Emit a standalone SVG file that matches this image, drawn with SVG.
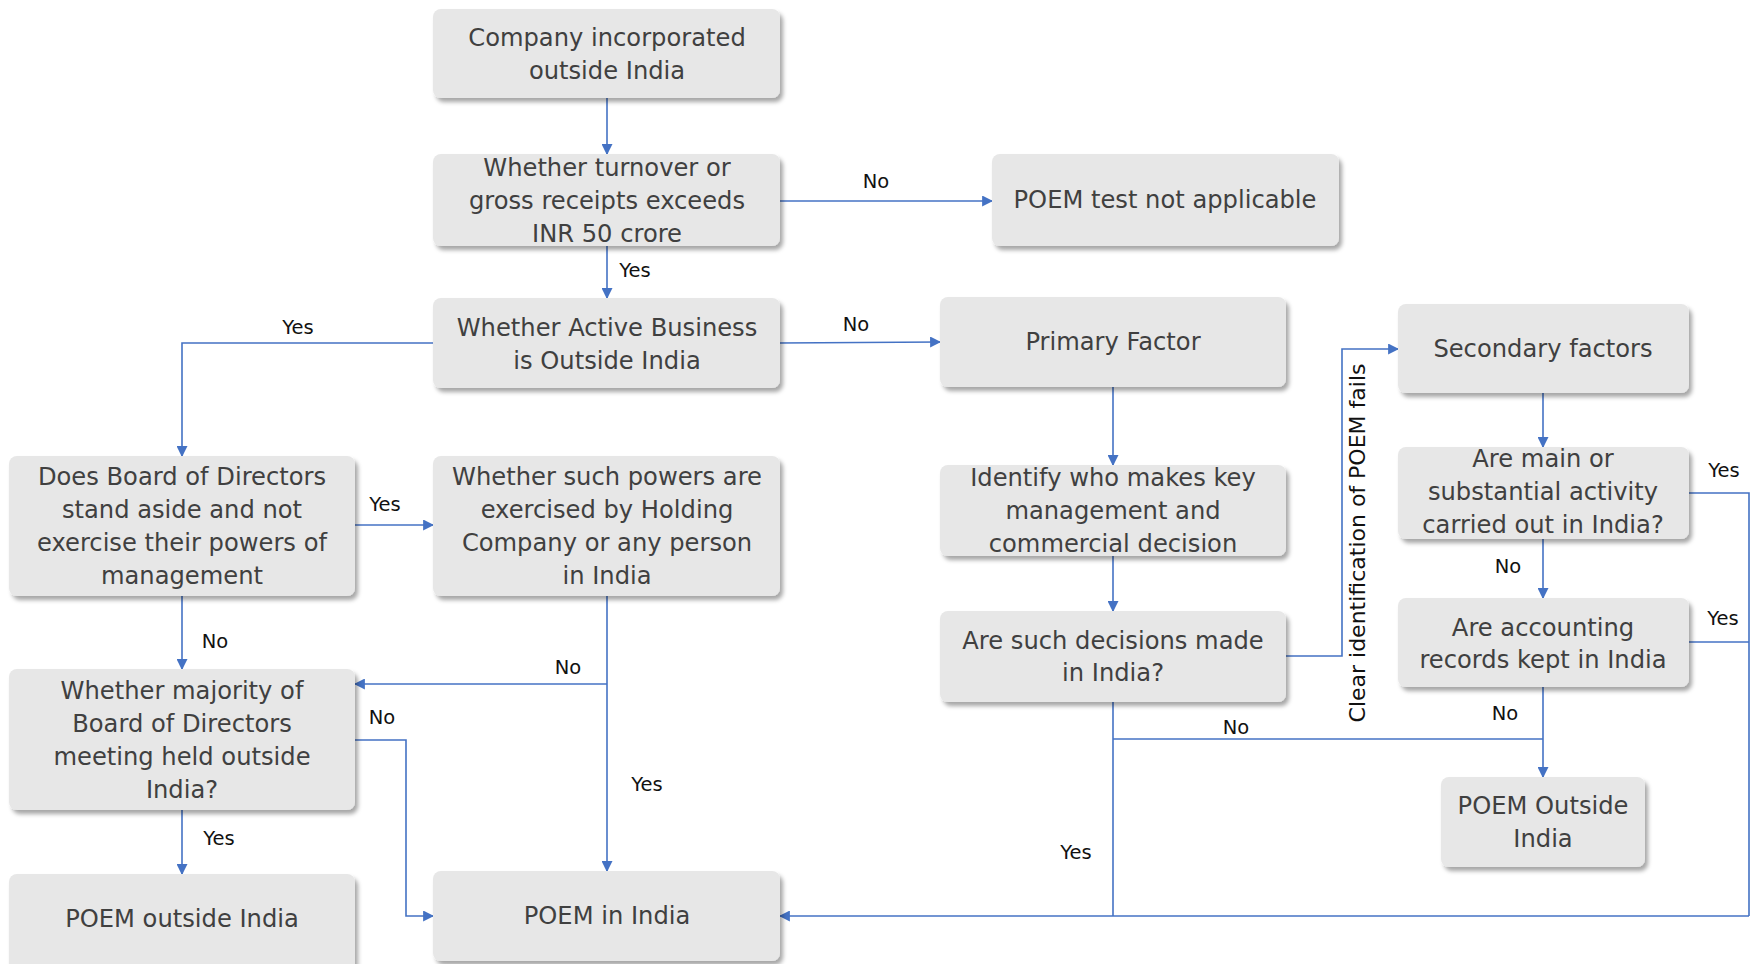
<svg xmlns="http://www.w3.org/2000/svg" width="1752" height="964" viewBox="0 0 1752 964">
  <style>
    .box { fill: #e7e7e7; filter: url(#shadow); }
    .nt { font-family: "DejaVu Sans", Verdana, sans-serif; font-size: 24.2px; fill: #404040; text-anchor: middle; dominant-baseline: central; }
    .lbl { font-family: "DejaVu Sans", Verdana, sans-serif; font-size: 19.5px; fill: #111; text-anchor: middle; dominant-baseline: central; }
    .wire { fill: none; stroke: #4472c4; stroke-width: 1.6; }
    .arr { marker-end: url(#head); }
  </style>
  <defs>
    <filter id="shadow" x="-10%" y="-10%" width="125%" height="135%">
      <feDropShadow dx="3" dy="4" stdDeviation="2.2" flood-color="#000" flood-opacity="0.35"/>
    </filter>
    <marker id="head" viewBox="0 0 10 10" refX="9" refY="5" markerWidth="11" markerHeight="11" markerUnits="userSpaceOnUse" orient="auto">
      <path d="M0,0 L10,5 L0,10 z" fill="#4472c4"/>
    </marker>
  </defs>

  <rect width="1752" height="964" fill="#ffffff"/>

  <!-- connectors -->
  <g id="connectors">
    <path class="wire arr" d="M607,98 V154"/>
    <path class="wire arr" d="M780,201 H992"/>
    <path class="wire arr" d="M607,246 V298"/>
    <path class="wire arr" d="M780,343 L940,342"/>
    <path class="wire arr" d="M433,343 H182 V456"/>
    <path class="wire arr" d="M355,525 H433"/>
    <path class="wire arr" d="M182,596 V669"/>
    <path class="wire arr" d="M607,596 V871"/>
    <path class="wire arr" d="M607,684 H355"/>
    <path class="wire arr" d="M355,740 H406 V916 H433"/>
    <path class="wire arr" d="M182,810 V874"/>
    <path class="wire arr" d="M1113,387 V465"/>
    <path class="wire arr" d="M1113,556 V611"/>
    <path class="wire arr" d="M1286,656 H1342 V349 H1398"/>
    <path class="wire" d="M1113,702 V916"/>
    <path class="wire" d="M1113,739 H1543"/>
    <path class="wire arr" d="M1543,393 V447"/>
    <path class="wire arr" d="M1543,539 V598"/>
    <path class="wire arr" d="M1543,687 V777"/>
    <path class="wire" d="M1689,493 H1749 V916"/>
    <path class="wire" d="M1689,642 H1749"/>
    <path class="wire arr" d="M1749,916 H780"/>

    <text class="lbl" x="876" y="181">No</text>
    <text class="lbl" x="635" y="270">Yes</text>
    <text class="lbl" x="856" y="324">No</text>
    <text class="lbl" x="298" y="327">Yes</text>
    <text class="lbl" x="385" y="504">Yes</text>
    <text class="lbl" x="215" y="641">No</text>
    <text class="lbl" x="568" y="667">No</text>
    <text class="lbl" x="647" y="784">Yes</text>
    <text class="lbl" x="382" y="717">No</text>
    <text class="lbl" x="219" y="838">Yes</text>
    <text class="lbl" x="1236" y="727">No</text>
    <text class="lbl" x="1076" y="852">Yes</text>
    <text class="lbl" x="1508" y="566">No</text>
    <text class="lbl" x="1505" y="713">No</text>
    <text class="lbl" x="1724" y="470">Yes</text>
    <text class="lbl" x="1723" y="618">Yes</text>
    <text class="lbl" x="1357" y="543" transform="rotate(-90 1357 543)" style="font-size:22px">Clear identification of POEM fails</text>
  </g>

  <!-- nodes -->
  <g id="n-company">
    <rect class="box" x="433" y="9" width="347" height="89" rx="8"/>
    <text class="nt" x="607" y="38">Company incorporated</text>
    <text class="nt" x="607" y="71">outside India</text>
  </g>
  <g id="n-turnover">
    <rect class="box" x="433" y="154" width="347" height="92" rx="8"/>
    <text class="nt" x="607" y="168">Whether turnover or</text>
    <text class="nt" x="607" y="201">gross receipts exceeds</text>
    <text class="nt" x="607" y="234">INR 50 crore</text>
  </g>
  <g id="n-not-applicable">
    <rect class="box" x="992" y="154" width="347" height="92" rx="8"/>
    <text class="nt" x="1165" y="200">POEM test not applicable</text>
  </g>
  <g id="n-active">
    <rect class="box" x="433" y="298" width="347" height="90" rx="8"/>
    <text class="nt" x="607" y="328">Whether Active Business</text>
    <text class="nt" x="607" y="361">is Outside India</text>
  </g>
  <g id="n-primary">
    <rect class="box" x="940" y="297" width="346" height="90" rx="8"/>
    <text class="nt" x="1113" y="342">Primary Factor</text>
  </g>
  <g id="n-secondary">
    <rect class="box" x="1398" y="304" width="291" height="89" rx="8"/>
    <text class="nt" x="1543" y="349">Secondary factors</text>
  </g>
  <g id="n-board-aside">
    <rect class="box" x="9" y="456" width="346" height="140" rx="8"/>
    <text class="nt" x="182" y="477">Does Board of Directors</text>
    <text class="nt" x="182" y="510">stand aside and not</text>
    <text class="nt" x="182" y="543">exercise their powers of</text>
    <text class="nt" x="182" y="576">management</text>
  </g>
  <g id="n-powers">
    <rect class="box" x="433" y="456" width="347" height="140" rx="8"/>
    <text class="nt" x="607" y="477">Whether such powers are</text>
    <text class="nt" x="607" y="510">exercised by Holding</text>
    <text class="nt" x="607" y="543">Company or any person</text>
    <text class="nt" x="607" y="576">in India</text>
  </g>
  <g id="n-identify">
    <rect class="box" x="940" y="465" width="346" height="91" rx="8"/>
    <text class="nt" x="1113" y="478">Identify who makes key</text>
    <text class="nt" x="1113" y="511">management and</text>
    <text class="nt" x="1113" y="544">commercial decision</text>
  </g>
  <g id="n-main-activity">
    <rect class="box" x="1398" y="447" width="291" height="92" rx="8"/>
    <text class="nt" x="1543" y="459">Are main or</text>
    <text class="nt" x="1543" y="492">substantial activity</text>
    <text class="nt" x="1543" y="525">carried out in India?</text>
  </g>
  <g id="n-decisions">
    <rect class="box" x="940" y="611" width="346" height="91" rx="8"/>
    <text class="nt" x="1113" y="641">Are such decisions made</text>
    <text class="nt" x="1113" y="673">in India?</text>
  </g>
  <g id="n-accounting">
    <rect class="box" x="1398" y="598" width="291" height="89" rx="8"/>
    <text class="nt" x="1543" y="628">Are accounting</text>
    <text class="nt" x="1543" y="660">records kept in India</text>
  </g>
  <g id="n-majority">
    <rect class="box" x="9" y="669" width="346" height="141" rx="8"/>
    <text class="nt" x="182" y="691">Whether majority of</text>
    <text class="nt" x="182" y="724">Board of Directors</text>
    <text class="nt" x="182" y="757">meeting held outside</text>
    <text class="nt" x="182" y="790">India?</text>
  </g>
  <g id="n-poem-outside-right">
    <rect class="box" x="1441" y="777" width="204" height="90" rx="8"/>
    <text class="nt" x="1543" y="806">POEM Outside</text>
    <text class="nt" x="1543" y="839">India</text>
  </g>
  <g id="n-poem-outside-left">
    <rect class="box" x="9" y="874" width="346" height="100" rx="8"/>
    <text class="nt" x="182" y="919">POEM outside India</text>
  </g>
  <g id="n-poem-india">
    <rect class="box" x="433" y="871" width="347" height="90" rx="8"/>
    <text class="nt" x="607" y="916">POEM in India</text>
  </g>
</svg>
